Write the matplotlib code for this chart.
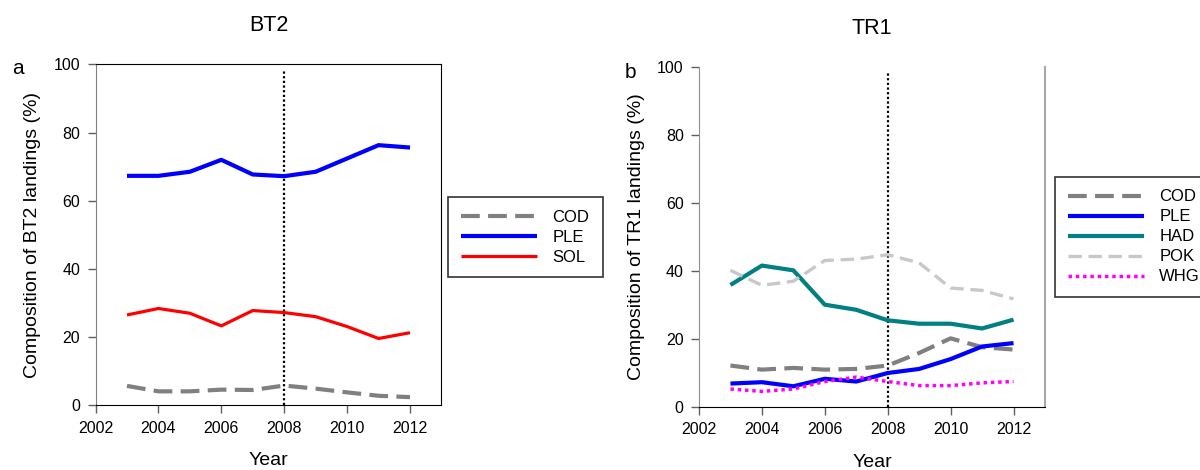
import matplotlib
matplotlib.use("Agg")
import matplotlib.pyplot as plt

plt.rcParams['font.family'] = ['Liberation Sans', 'DejaVu Sans']

years = [2003, 2004, 2005, 2006, 2007, 2008, 2009, 2010, 2011, 2012]

# BT2 fleet, % of landings
bt2_cod = [5.7, 4.1, 4.1, 4.6, 4.5, 5.8, 4.9, 3.8, 2.8, 2.4]
bt2_ple = [67.3, 67.3, 68.5, 72.0, 67.7, 67.2, 68.5, 72.4, 76.3, 75.6]
bt2_sol = [26.5, 28.4, 27.0, 23.3, 27.8, 27.2, 26.0, 23.1, 19.6, 21.3]

# TR1 fleet, % of landings
tr1_cod = [12.2, 11.0, 11.5, 11.0, 11.2, 12.2, 15.9, 20.2, 17.6, 16.9]
tr1_ple = [6.9, 7.3, 6.1, 8.3, 7.5, 10.0, 11.2, 14.1, 17.8, 18.8]
tr1_had = [35.9, 41.6, 40.2, 30.1, 28.6, 25.5, 24.5, 24.5, 23.1, 25.7]
tr1_pok = [40.2, 35.8, 37.0, 43.1, 43.5, 44.8, 42.4, 35.0, 34.3, 31.8]
tr1_whg = [5.3, 4.6, 5.3, 7.5, 8.8, 7.5, 6.3, 6.3, 7.1, 7.5]

change_year = 2008
xticks = [2002, 2004, 2006, 2008, 2010, 2012]
yticks = [0, 20, 40, 60, 80, 100]

styles = {
    'COD': dict(color='#808080', lw=3.0, ls=(0, (4.5, 2))),
    'PLE': dict(color='#0000ff', lw=3.0, ls='-'),
    'SOL': dict(color='#ff0000', lw=2.3, ls='-'),
    'HAD': dict(color='#008080', lw=3.0, ls='-'),
    'POK': dict(color='#c8c8c8', lw=2.4, ls=(0, (4, 2))),
    'WHG': dict(color='#ff00ff', lw=2.5, ls=(0, (1, 1.1))),
}

fig = plt.figure(figsize=(12, 4.7), dpi=100)
ax1 = fig.add_axes([0.0796, 0.1376, 0.2883, 0.7255])
ax2 = fig.add_axes([0.5825, 0.1340, 0.2883, 0.7234])


def style_axes(ax, fleet):
    ax.set_xlim(2002, 2013)
    ax.set_ylim(0, 100)
    ax.set_xticks(xticks)
    ax.set_yticks(yticks)
    ax.tick_params(direction='out', length=6, width=1, color='#606060',
                   labelsize=11.5, pad=5)
    ax.set_xlabel('Year', fontsize=14, labelpad=12)
    ax.set_ylabel(f'Composition of {fleet} landings (%)', fontsize=14, labelpad=9)
    ax.set_title(fleet, fontsize=15.5, pad=24)
    ax.axvline(change_year, ymax=0.985, color='black', lw=1.6, ls=(0, (1, 1.1)), zorder=1)


style_axes(ax1, 'BT2')
for name, vals in [('COD', bt2_cod), ('PLE', bt2_ple), ('SOL', bt2_sol)]:
    s = styles[name]
    ax1.plot(years, vals, color=s['color'], lw=s['lw'], ls=s['ls'], label=name,
             solid_capstyle='butt', zorder=2)
ax1.spines['left'].set_color('#808080')

style_axes(ax2, 'TR1')
for name, vals in [('COD', tr1_cod), ('PLE', tr1_ple), ('HAD', tr1_had),
                   ('POK', tr1_pok), ('WHG', tr1_whg)]:
    s = styles[name]
    ax2.plot(years, vals, color=s['color'], lw=s['lw'], ls=s['ls'], label=name,
             solid_capstyle='butt', zorder=2)
ax2.spines['top'].set_visible(False)
ax2.spines['left'].set_color('#909090')
ax2.spines['right'].set_color('#a8a8a8')
ax2.spines['right'].set_linewidth(1.5)

legend_kw = dict(loc='upper left', fontsize=12, frameon=True, fancybox=False,
                 edgecolor='black', borderaxespad=0, handlelength=4.6,
                 handletextpad=0.9, labelspacing=0.3, borderpad=0.75)
leg1 = fig.legend(*ax1.get_legend_handles_labels(),
                  bbox_to_anchor=(448 / 1200, 1 - 197 / 470, 155 / 1200, 0),
                  mode='expand', **legend_kw)
leg2 = fig.legend(*ax2.get_legend_handles_labels(),
                  bbox_to_anchor=(1055 / 1200, 1 - 177 / 470), **legend_kw)
for leg in (leg1, leg2):
    leg.get_frame().set_linewidth(1.2)

fig.text(18 / 1200, 1 - 68 / 470, 'a', fontsize=15, ha='center', va='center')
fig.text(630 / 1200, 1 - 72 / 470, 'b', fontsize=15, ha='center', va='center')

fig.savefig('out.png', dpi=100)
